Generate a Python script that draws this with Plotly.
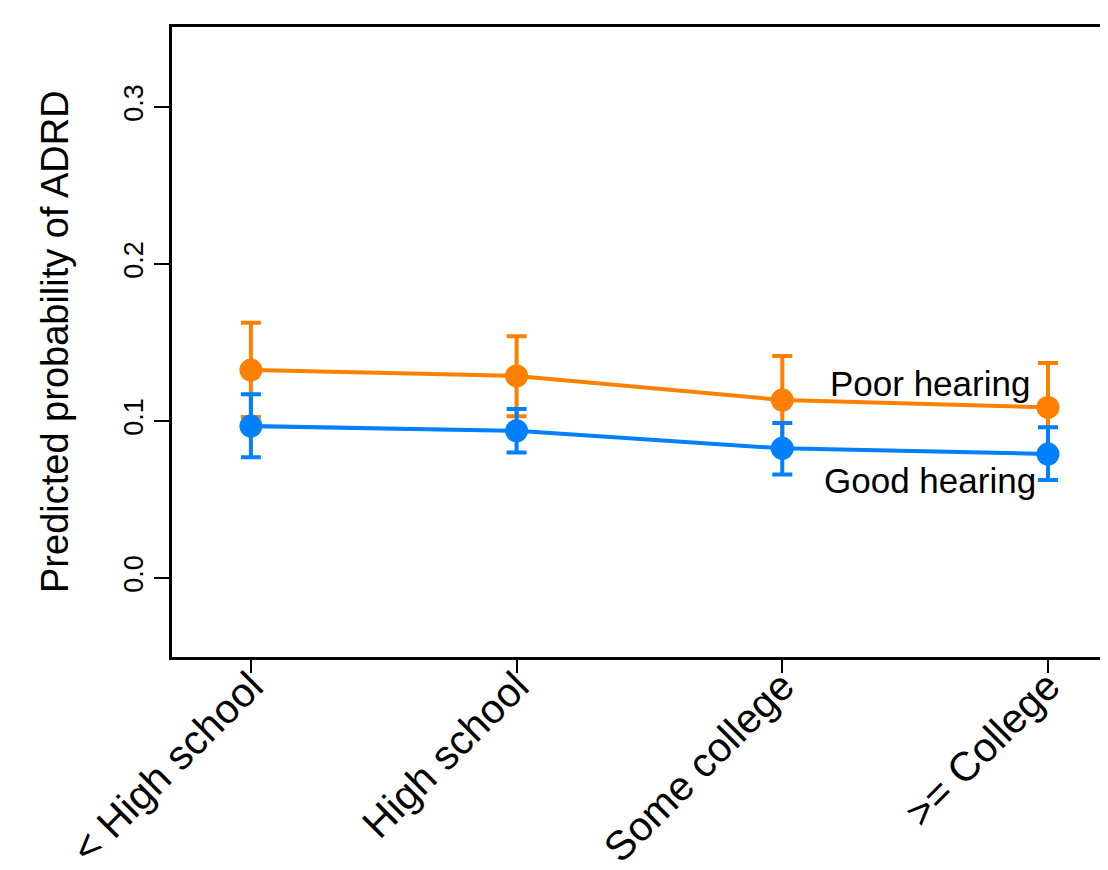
import plotly.graph_objects as go

categories = ["< High school", "High school", "Some college", ">= College"]

poor = [0.1325, 0.1287, 0.1134, 0.1087]
poor_hi = [0.1626, 0.154, 0.1414, 0.137]
poor_lo = [0.1025, 0.103, 0.085, 0.081]

good = [0.0968, 0.0938, 0.0826, 0.079]
good_hi = [0.117, 0.1076, 0.0987, 0.096]
good_lo = [0.077, 0.080, 0.066, 0.0624]

y_ticks = [0.0, 0.1, 0.2, 0.3]
y_tick_text = ["0.0", "0.1", "0.2", "0.3"]

ORANGE = "#FF8000"
BLUE = "#0080FF"
FONT = "Liberation Sans, Arial, Helvetica, sans-serif"

fig = go.Figure()


def add_series(vals, hi, lo, color, name):
    fig.add_trace(go.Scatter(
        x=categories, y=vals, mode="lines+markers", name=name,
        line=dict(color=color, width=4),
        marker=dict(color=color, size=23),
        error_y=dict(type="data", symmetric=False,
                     array=[h - v for h, v in zip(hi, vals)],
                     arrayminus=[v - l for v, l in zip(vals, lo)],
                     color=color, thickness=4, width=10),
        showlegend=False,
    ))


add_series(poor, poor_hi, poor_lo, ORANGE, "Poor hearing")
add_series(good, good_hi, good_lo, BLUE, "Good hearing")

fig.add_annotation(x=2.556, y=0.1236, text="Poor hearing", showarrow=False,
                   font=dict(family=FONT, size=35, color="black"))
fig.add_annotation(x=2.556, y=0.0624, text="Good hearing", showarrow=False,
                   font=dict(family=FONT, size=35, color="black"))
fig.add_annotation(xref="paper", yref="paper", x=(55 - 172) / 936, y=0.5,
                   text="Predicted probability of ADRD", textangle=-90,
                   showarrow=False, xanchor="center", yanchor="middle",
                   font=dict(family=FONT, size=38, color="black"))

fig.update_layout(
    width=1100, height=870,
    margin=dict(l=164, r=0, t=19, b=221, autoexpand=False),
    paper_bgcolor="white", plot_bgcolor="white",
    font=dict(family=FONT, color="black"),
    xaxis=dict(range=[-0.297, 3.226], showgrid=False, zeroline=False,
               automargin=False,
               showline=True, linecolor="black", linewidth=2.5, mirror=True,
               ticks="outside", ticklen=13, tickwidth=1.5, tickcolor="black",
               ticklabelstandoff=-27,
               tickangle=-45, tickfont=dict(family=FONT, size=41, color="black")),
    yaxis=dict(range=[-0.0503, 0.351], showgrid=False, zeroline=False,
               automargin=False,
               showline=True, linecolor="black", linewidth=2.5, mirror=False,
               ticks="outside", ticklen=15, tickwidth=1.5, tickcolor="black",
               tickvals=y_ticks, ticktext=y_tick_text, tickangle=-90,
               tickfont=dict(family=FONT, size=27, color="black")),
)

fig.write_html("out.html")
